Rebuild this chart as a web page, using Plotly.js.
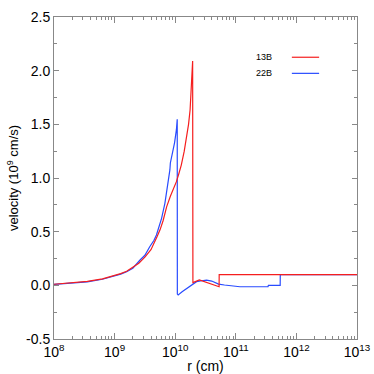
<!DOCTYPE html>
<html>
<head>
<meta charset="utf-8">
<script src="https://cdn.plot.ly/plotly-3.0.1.min.js"></script>
<style>html,body{margin:0;padding:0;background:#fff}#chart{width:374px;height:374px}</style>
</head>
<body>
<div id="chart"></div>
<script>
// 13B series
const r13 = [1e8, 2.0e8, 3.55e8, 6.31e8, 1e9, 1.26e9, 1.58e9, 2.0e9, 2.51e9, 3.16e9, 3.98e9, 5.01e9, 5.62e9, 6.31e9, 7.24e9, 8.32e9, 9.33e9, 1.047e10, 1.148e10, 1.26e10, 1.41e10, 1.55e10, 1.66e10, 1.76e10, 1.84e10, 1.94e10, 1.96e10, 2.5e10, 5.3e10, 5.32e10, 5.4e11, 1e13];
const v13 = [0.01, 0.022, 0.037, 0.061, 0.089, 0.109, 0.131, 0.166, 0.206, 0.262, 0.332, 0.452, 0.517, 0.602, 0.733, 0.83, 0.89, 0.966, 1.04, 1.12, 1.25, 1.39, 1.5, 1.634, 1.85, 2.09, 0.025, 0.05, -0.013, 0.1, 0.1, 0.1];
// 22B series
const r22 = [1e8, 2.0e8, 3.55e8, 6.31e8, 1e9, 1.26e9, 1.58e9, 2.0e9, 2.63e9, 3.16e9, 3.8e9, 4.47e9, 4.9e9, 5.25e9, 5.62e9, 5.96e9, 6.76e9, 7.67e9, 8.17e9, 8.32e9, 8.91e9, 9.77e9, 1.047e10, 1.08e10, 1.085e10, 1.12e10, 1.3e10, 1.75e10, 2.25e10, 2.9e10, 3.3e10, 4e10, 5.2e10, 6.5e10, 7.9e10, 1e11, 1.17e11, 2.2e11, 3.4e11, 3.45e11, 5.4e11, 5.42e11, 1e13];
const v22 = [0.008, 0.02, 0.033, 0.057, 0.085, 0.104, 0.126, 0.16, 0.236, 0.28, 0.36, 0.42, 0.469, 0.53, 0.59, 0.624, 0.764, 0.95, 1.075, 1.14, 1.22, 1.33, 1.45, 1.547, -0.081, -0.09, -0.06, -0.013, 0.034, 0.045, 0.049, 0.04, 0.012, 0.003, -0.004, -0.009, -0.013, -0.013, -0.013, 0.0, 0.0, 0.1, 0.1];
// axis ticks
const xTickVals = [1e8, 1e9, 1e10, 1e11, 1e12, 1e13];
const xTickText = ['10<sup>8</sup>', '10<sup>9</sup>', '10<sup>10</sup>', '10<sup>11</sup>', '10<sup>12</sup>', '10<sup>13</sup>'];
const yTickVals = [-0.5, 0, 0.5, 1.0, 1.5, 2.0, 2.5];
const yTickText = ['-0.5', '0.0', '0.5', '1.0', '1.5', '2.0', '2.5'];
const seriesNames = ['13B', '22B'];
const RED = 'rgb(245,30,30)', BLUE = 'rgb(40,75,255)';

const traces = [
  {x: r22, y: v22, mode: 'lines', name: seriesNames[1], line: {color: BLUE, width: 1.2}},
  {x: r13, y: v13, mode: 'lines', name: seriesNames[0], line: {color: RED, width: 1.2, shape: 'linear'}}
];
const font = {family: '"Liberation Sans", Arial, sans-serif', color: '#000'};
const layout = {
  width: 374, height: 374,
  margin: {l: 54, r: 17, t: 17, b: 35},
  paper_bgcolor: '#fff', plot_bgcolor: '#fff',
  showlegend: false,
  font: font,
  xaxis: {
    type: 'log', range: [8, 13],
    tickvals: xTickVals, ticktext: xTickText,
    ticks: 'inside', ticklen: 6, tickcolor: '#888', tickwidth: 1,
    minor: {ticks: 'inside', ticklen: 3, tickcolor: '#888', dtick: 'D1', showgrid: false},
    showline: true, linecolor: '#888', linewidth: 1, mirror: 'allticks',
    showgrid: false, zeroline: false,
    tickfont: {size: 14},
    title: {text: 'r (cm)', font: {size: 14}, standoff: 2}
  },
  yaxis: {
    range: [-0.5, 2.5],
    tickvals: yTickVals, ticktext: yTickText,
    ticks: 'inside', ticklen: 5, tickcolor: '#888', tickwidth: 1,
    minor: {ticks: 'inside', ticklen: 3, tickcolor: '#888', dtick: 0.25, showgrid: false},
    showline: true, linecolor: '#888', linewidth: 1, mirror: 'allticks',
    showgrid: false, zeroline: false,
    tickfont: {size: 14},
    title: {text: 'velocity (10<sup>9</sup> cm/s)', font: {size: 13}, standoff: 4}
  },
  annotations: [
    {xref: 'paper', yref: 'paper', x: 0.725, y: 0.875, xanchor: 'right', yanchor: 'middle', text: seriesNames[0], showarrow: false, font: {size: 9}},
    {xref: 'paper', yref: 'paper', x: 0.725, y: 0.825, xanchor: 'right', yanchor: 'middle', text: seriesNames[1], showarrow: false, font: {size: 9}}
  ],
  shapes: [
    {type: 'line', xref: 'paper', yref: 'paper', x0: 0.785, x1: 0.875, y0: 0.875, y1: 0.875, line: {color: RED, width: 1.2}},
    {type: 'line', xref: 'paper', yref: 'paper', x0: 0.785, x1: 0.875, y0: 0.825, y1: 0.825, line: {color: BLUE, width: 1.2}}
  ]
};
Plotly.newPlot('chart', traces, layout, {displayModeBar: false, staticPlot: true});
</script>
</body>
</html>
